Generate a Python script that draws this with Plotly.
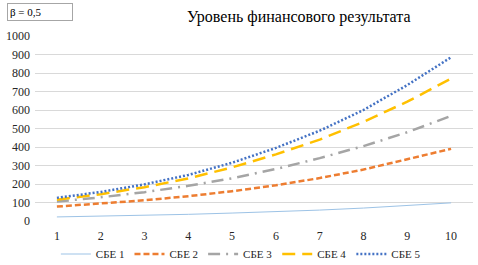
import plotly.graph_objects as go

x_vals = [1, 2, 3, 4, 5, 6, 7, 8, 9, 10]
sbe1 = [22, 26, 31, 36, 43, 50, 59, 70, 83, 98]
sbe2 = [78, 94, 112, 134, 161, 193, 232, 278, 333, 390]
sbe3 = [105, 128, 156, 190, 231, 281, 340, 405, 480, 568]
sbe4 = [115, 145, 183, 230, 290, 360, 440, 536, 645, 770]
sbe5 = [125, 157, 198, 249, 315, 395, 488, 600, 735, 885]
names = ["СБЕ 1", "СБЕ 2", "СБЕ 3", "СБЕ 4", "СБЕ 5"]
y_ticks = [0, 100, 200, 300, 400, 500, 600, 700, 800, 900, 1000]

series = [sbe1, sbe2, sbe3, sbe4, sbe5]
colors = ["#9DC3E6", "#ED7D31", "#A5A5A5", "#FFC000", "#4472C4"]
widths = [1, 2.5, 2.5, 2.5, 2.5]
dashes = ["solid", "6px,3px", "12px,6px,2px,6px", "13px,7px", "2px,2px"]

FONT = "Times New Roman, Liberation Serif, serif"
fig = go.Figure()
for s, n, c, w, d in zip(series, names, colors, widths, dashes):
    fig.add_trace(go.Scatter(x=[str(v) for v in x_vals], y=s, name=n, mode="lines",
                             line=dict(color=c, width=w, dash=d)))

fig.update_layout(
    width=478, height=265,
    margin=dict(l=35, r=5, t=36, b=44, autoexpand=False),
    paper_bgcolor="white", plot_bgcolor="white",
    font=dict(family=FONT, size=11, color="#262626"),
    title=dict(text="Уровень финансового результата", x=0.625, xanchor="center",
               y=0.94, yanchor="middle", font=dict(family=FONT, size=16, color="#000000")),
    xaxis=dict(type="category", range=[-0.5, 9.5], showgrid=False, showline=False, ticks="",
               ticklabelstandoff=6,
               tickfont=dict(family=FONT, size=12, color="#262626")),
    yaxis=dict(range=[0, 1000], tickvals=y_ticks, showgrid=True, gridcolor="#D9D9D9",
               gridwidth=1, zeroline=False, showline=False, ticks="",
               ticklabelstandoff=4,
               tickfont=dict(family=FONT, size=12, color="#262626")),
    legend=dict(orientation="h", x=0.47, xanchor="center", y=-0.10, yanchor="top",
                font=dict(family=FONT, size=11, color="#262626"),
                itemwidth=30, tracegroupgap=0),
    showlegend=True,
)
fig.add_annotation(text="β = 0,5", xref="paper", yref="paper", x=-0.065, y=1.131,
                   xanchor="left", yanchor="middle", showarrow=False,
                   font=dict(family=FONT, size=11, color="#000000"),
                   bordercolor="#A6A6A6", borderwidth=1, borderpad=2, width=60, align="left")
fig.write_html("out.html", config={"displayModeBar": False},
               post_script="document.body.style.margin='0px';")
